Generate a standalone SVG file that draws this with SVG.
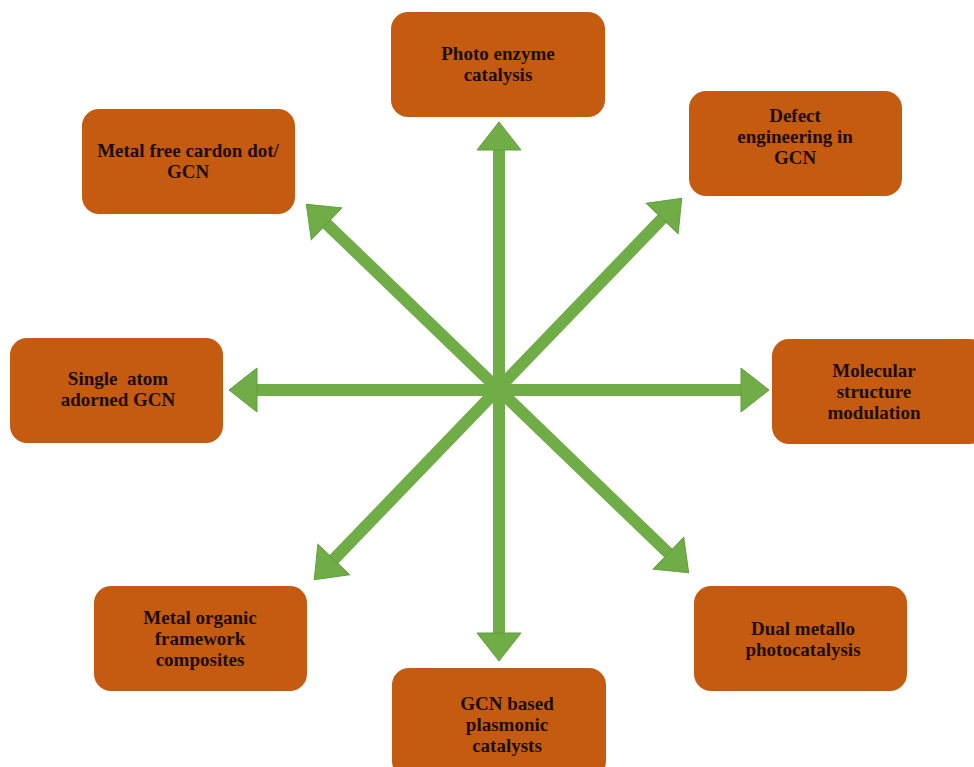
<svg xmlns="http://www.w3.org/2000/svg" width="974" height="767" viewBox="0 0 974 767">
<style>
.box{fill:#C55A11;}
.lbl{font-family:"Liberation Serif","Times New Roman",serif;font-weight:bold;font-size:19px;fill:#1c0e06;text-anchor:middle;}
.shaft{stroke:#70AD47;stroke-width:12;fill:none;}
</style>
<defs>
<marker id="ah" markerUnits="userSpaceOnUse" markerWidth="30" markerHeight="46" refX="0" refY="0" orient="auto" overflow="visible">
<path d="M0,-22 L28,0 L0,22 Z" fill="#70AD47" stroke="#5F9E3C" stroke-width="1"/>
</marker>
</defs>
<rect width="974" height="767" fill="#ffffff"/>
<g id="connectors">
<line class="shaft" x1="499" y1="389" x2="499" y2="150" marker-end="url(#ah)"/>
<line class="shaft" x1="499" y1="389" x2="499" y2="633" marker-end="url(#ah)"/>
<line class="shaft" x1="498" y1="390" x2="257" y2="390" marker-end="url(#ah)"/>
<line class="shaft" x1="498" y1="390" x2="741" y2="390" marker-end="url(#ah)"/>
<line class="shaft" x1="498" y1="389" x2="326.5" y2="223.7" marker-end="url(#ah)"/>
<line class="shaft" x1="498" y1="389" x2="662.3" y2="218.5" marker-end="url(#ah)"/>
<line class="shaft" x1="498" y1="389" x2="333.7" y2="559.5" marker-end="url(#ah)"/>
<line class="shaft" x1="498" y1="389" x2="668.5" y2="553.3" marker-end="url(#ah)"/>
</g>
<g id="n1">
<rect class="box" x="391" y="12" width="214" height="105" rx="17"/>
<text class="lbl" x="498" y="60">Photo enzyme</text>
<text class="lbl" x="498" y="81">catalysis</text>
</g>
<g id="n2">
<rect class="box" x="689" y="91" width="213" height="105" rx="17"/>
<text class="lbl" x="795" y="122">Defect</text>
<text class="lbl" x="795" y="143">engineering in</text>
<text class="lbl" x="795" y="164">GCN</text>
</g>
<g id="n3">
<rect class="box" x="82" y="109" width="213" height="105" rx="17"/>
<text class="lbl" x="188" y="157">Metal free cardon dot/</text>
<text class="lbl" x="188" y="178">GCN</text>
</g>
<g id="n4">
<rect class="box" x="10" y="338" width="213" height="105" rx="17"/>
<text class="lbl" x="118" y="385" xml:space="preserve">Single  atom</text>
<text class="lbl" x="118" y="406">adorned GCN</text>
</g>
<g id="n5">
<rect class="box" x="772" y="339" width="215" height="105" rx="17"/>
<text class="lbl" x="874" y="377">Molecular</text>
<text class="lbl" x="874" y="398">structure</text>
<text class="lbl" x="874" y="419">modulation</text>
</g>
<g id="n6">
<rect class="box" x="94" y="586" width="213" height="105" rx="17"/>
<text class="lbl" x="200" y="624">Metal organic</text>
<text class="lbl" x="200" y="645">framework</text>
<text class="lbl" x="200" y="666">composites</text>
</g>
<g id="n7">
<rect class="box" x="694" y="586" width="213" height="105" rx="17"/>
<text class="lbl" x="803" y="635">Dual metallo</text>
<text class="lbl" x="803" y="656">photocatalysis</text>
</g>
<g id="n8">
<rect class="box" x="392" y="668" width="214" height="110" rx="17"/>
<text class="lbl" x="507" y="710">GCN based</text>
<text class="lbl" x="507" y="731">plasmonic</text>
<text class="lbl" x="507" y="752">catalysts</text>
</g>
</svg>
